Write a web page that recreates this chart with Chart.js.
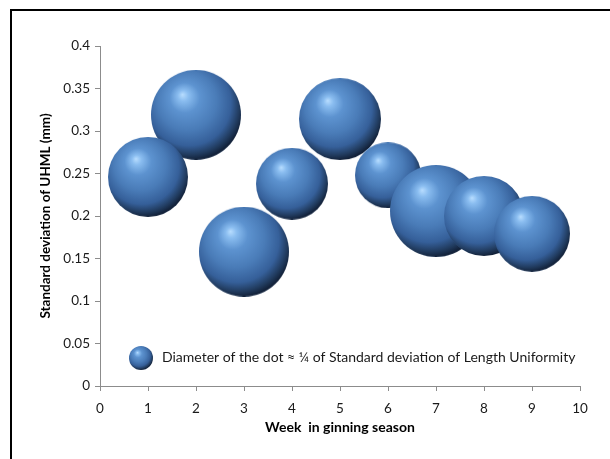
<!DOCTYPE html>
<html>
<head>
<meta charset="utf-8">
<script src="https://cdn.jsdelivr.net/npm/chart.js@4.4.1/dist/chart.umd.min.js"></script>
<style>
  html, body { margin: 0; padding: 0; background: #fff; overflow: hidden; }
  #wrap { position: relative; width: 610px; height: 459px; }
  #frame { position: absolute; left: 10px; top: 9px; width: 700px; height: 600px;
           border-top: 2px solid #000; border-left: 2px solid #000; }
  #c { position: absolute; left: 0; top: 0; }
</style>
</head>
<body>
<div id="wrap">
  <div id="frame"></div>
  <canvas id="c" width="610" height="459"></canvas>
</div>
<script>
// Week of the ginning season
const weeks = [1, 2, 3, 4, 5, 6, 7, 8, 9];
// Standard deviation of UHML (mm) for each week
const sdUHML = [0.246, 0.319, 0.158, 0.238, 0.314, 0.248, 0.206, 0.200, 0.179];
// Bubble radius (px) standing for the spread of Length Uniformity
const dotRadius = [40, 45, 45, 36, 41, 33, 46, 40, 38];
// Stacking of the dots, back to front (week 1 sits in front of week 2)
const drawOrder = [1, 0, 2, 3, 4, 5, 6, 7, 8];

const seriesLabel = 'Diameter of the dot \u2248 \u00bc of Standard deviation of Length Uniformity';
const xTitle = 'Week  in ginning season';
const yTitle = 'Standard deviation of UHML (mm)';

const FONT = 'Lato, "Liberation Sans", sans-serif';

// Shaded glossy sphere, cached by radius
const sphereCache = {};
function sphere(r) {
  if (sphereCache[r]) return sphereCache[r];
  const s = Math.ceil(r * 2);
  const cv = document.createElement('canvas');
  cv.width = s; cv.height = s;
  const g = cv.getContext('2d');
  const cx = s / 2, cy = s / 2;
  g.save();
  g.beginPath();
  g.arc(cx, cy, r, 0, Math.PI * 2);
  g.clip();
  const rg = g.createRadialGradient(cx - 0.3 * r, cy - 0.45 * r, 0, cx - 0.12 * r, cy - 0.2 * r, 1.2 * r);
  rg.addColorStop(0.00, '#b8ddff');
  rg.addColorStop(0.10, '#8abdf0');
  rg.addColorStop(0.28, '#5d93d0');
  rg.addColorStop(0.55, '#4a7cb8');
  rg.addColorStop(0.78, '#36609a');
  rg.addColorStop(0.92, '#213b5e');
  rg.addColorStop(1.00, '#13223a');
  g.fillStyle = rg;
  g.fillRect(0, 0, s, s);
  // light rim along the lower edge
  const lg = g.createLinearGradient(0, cy + 0.55 * r, 0, cy + r);
  lg.addColorStop(0, 'rgba(110,160,220,0)');
  lg.addColorStop(0.7, 'rgba(95,145,210,0.6)');
  lg.addColorStop(1, 'rgba(125,172,230,0.95)');
  g.fillStyle = lg;
  g.beginPath();
  g.ellipse(cx, cy + 0.1 * r, 0.98 * r, 0.9 * r, 0, 0, Math.PI * 2);
  g.arc(cx, cy, r, 0, Math.PI * 2);
  g.fill('evenodd');
  g.restore();
  sphereCache[r] = cv;
  return cv;
}

// Legend drawn inside the plot area, above the x axis
const dotLegend = {
  id: 'dotLegend',
  afterDraw(chart) {
    const { ctx, chartArea } = chart;
    const label = chart.data.datasets[0].label;
    const x = chartArea.left + 41;
    const y = chartArea.bottom - 28;
    const img = sphere(12);
    ctx.save();
    ctx.drawImage(img, x - img.width / 2, y - img.height / 2);
    ctx.font = '14px ' + FONT;
    ctx.fillStyle = '#1a1a1a';
    ctx.textBaseline = 'middle';
    ctx.textAlign = 'left';
    ctx.fillText(label, x + 21, y - 1);
    ctx.restore();
  }
};

const fmt = v => String(parseFloat(Number(v).toFixed(2)));

new Chart(document.getElementById('c'), {
  type: 'bubble',
  data: {
    datasets: [{
      label: seriesLabel,
      data: drawOrder.map(i => ({ x: weeks[i], y: sdUHML[i], r: dotRadius[i] })),
      pointStyle: ctx => sphere(ctx.raw.r),
      backgroundColor: '#4f81bd',
      borderWidth: 0,
      clip: false
    }]
  },
  options: {
    responsive: false,
    animation: false,
    devicePixelRatio: 1,
    layout: { autoPadding: false, padding: { left: 0, top: 46, right: 30, bottom: 0 } },
    plugins: { legend: { display: false }, tooltip: { enabled: false } },
    scales: {
      x: {
        type: 'linear', min: 0, max: 10,
        ticks: { stepSize: 1, color: '#1a1a1a', font: { family: FONT, size: 13.5 }, padding: 10, maxRotation: 0, callback: fmt },
        grid: { drawOnChartArea: false, drawTicks: true, tickLength: 5, color: '#8c8c8c' },
        border: { color: '#8c8c8c', width: 1 },
        title: { display: true, text: xTitle, color: '#000', font: { family: FONT, size: 14, weight: 'bold' }, padding: { top: 0, bottom: 23 } },
        afterFit(scale) { scale.height = 73; }
      },
      y: {
        type: 'linear', min: 0, max: 0.4,
        ticks: { stepSize: 0.05, color: '#1a1a1a', font: { family: FONT, size: 13.5 }, padding: 5, callback: fmt },
        grid: { drawOnChartArea: false, drawTicks: true, tickLength: 5, color: '#8c8c8c' },
        border: { color: '#8c8c8c', width: 1 },
        title: { display: true, text: yTitle, color: '#000', font: { family: FONT, size: 13.5, weight: 'bold' }, padding: { top: 38, bottom: 0 } },
        afterFit(scale) { scale.width = 100; }
      }
    }
  },
  plugins: [dotLegend]
});
</script>
</body>
</html>
